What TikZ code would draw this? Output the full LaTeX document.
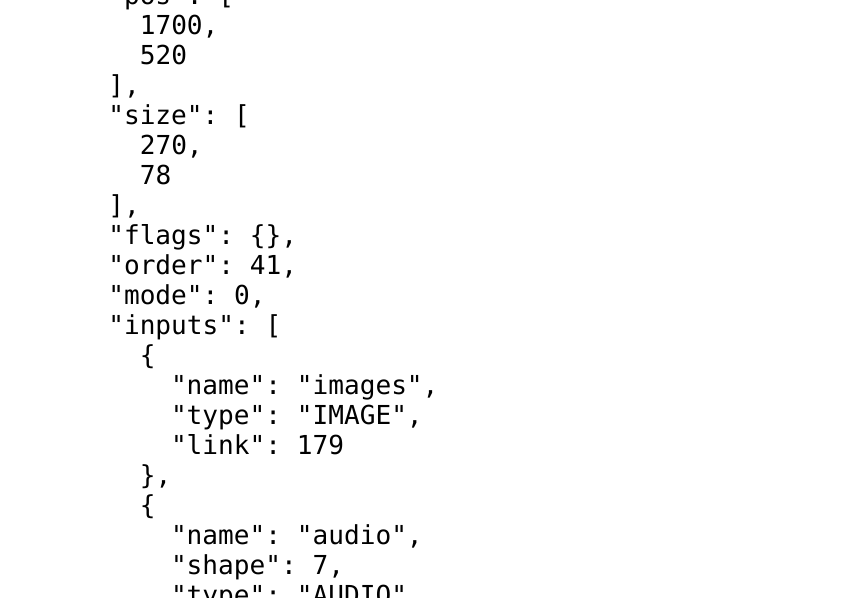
\documentclass[tikz,border=0pt]{standalone}
\usepackage{fontspec}
\setmonofont{DejaVu Sans Mono}
\begin{document}
\begin{tikzpicture}[x=0.75pt,y=-0.75pt,
  codeline/.style={anchor=base west,inner sep=0pt,outer sep=0pt,
    font=\ttfamily\fontsize{19.6pt}{22.5pt}\selectfont,text=black}]
\useasboundingbox[fill=white] (0,0) rectangle (850,598);
\def\LA{108.3}
\def\LB{139.8}
\def\LC{171.0}
\node[codeline] (l0) at (\LA,4.5) {"pos": [};
\node[codeline] (l1) at (\LB,34.5) {1700,};
\node[codeline] (l2) at (\LB,64.5) {520};
\node[codeline] (l3) at (\LA,94.5) {],};
\node[codeline] (l4) at (\LA,124.5) {"size": [};
\node[codeline] (l5) at (\LB,154.5) {270,};
\node[codeline] (l6) at (\LB,184.5) {78};
\node[codeline] (l7) at (\LA,214.5) {],};
\node[codeline] (l8) at (\LA,244.5) {"flags": \{\},};
\node[codeline] (l9) at (\LA,274.5) {"order": 41,};
\node[codeline] (l10) at (\LA,304.5) {"mode": 0,};
\node[codeline] (l11) at (\LA,334.5) {"inputs": [};
\node[codeline] (l12) at (\LB,364.5) {\{};
\node[codeline] (l13) at (\LC,394.5) {"name": "images",};
\node[codeline] (l14) at (\LC,424.5) {"type": "IMAGE",};
\node[codeline] (l15) at (\LC,454.5) {"link": 179};
\node[codeline] (l16) at (\LB,484.5) {\},};
\node[codeline] (l17) at (\LB,514.5) {\{};
\node[codeline] (l18) at (\LC,544.5) {"name": "audio",};
\node[codeline] (l19) at (\LC,574.5) {"shape": 7,};
\node[codeline] (l20) at (\LC,604.5) {"type": "AUDIO",};
\end{tikzpicture}
\end{document}
